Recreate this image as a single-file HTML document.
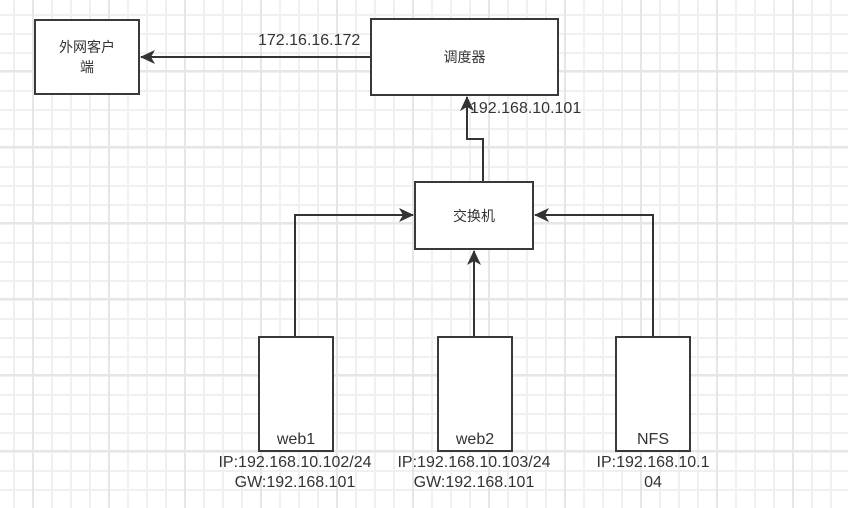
<!DOCTYPE html>
<html><head><meta charset="utf-8"><style>
body{margin:0;width:848px;height:508px;overflow:hidden;background:#fff;
background-image:linear-gradient(#e6e6e6 2px,transparent 2px),linear-gradient(90deg,#e6e6e6 2px,transparent 2px),linear-gradient(#f0f0f0 2px,transparent 2px),linear-gradient(90deg,#f0f0f0 2px,transparent 2px);
background-size:76px 76px,76px 76px,19px 19px,19px 19px;
background-position:0 70px,32px 0,0 14px,13px 0;
font-family:"Liberation Sans","Noto Sans CJK SC",sans-serif;color:#333}
.b{position:absolute;border:2px solid #36393d;background:#fff;box-sizing:border-box;display:flex;align-items:center;justify-content:center;text-align:center;font-size:14px;line-height:20px}
.t{position:absolute;font-size:16px;color:#333;white-space:nowrap;line-height:20px}
</style></head><body>
<svg width="848" height="508" style="position:absolute;left:0;top:0">
<defs><marker id="a" markerWidth="16" markerHeight="14" refX="14" refY="7" orient="auto" markerUnits="userSpaceOnUse"><path d="M0,0 L15,7 L0,14 L4,7Z" fill="#333"/></marker></defs>
<g stroke="#333" stroke-width="2" fill="none">
<path d="M370,57 L141,57" marker-end="url(#a)"/>
<path d="M483,182 L483,139 L467,139 L467,97" marker-end="url(#a)"/>
<path d="M295,336 L295,215 L413,215" marker-end="url(#a)"/>
<path d="M474,336 L474,251" marker-end="url(#a)"/>
<path d="M653,336 L653,215 L535,215" marker-end="url(#a)"/>
</g></svg>
<div class="b" style="left:34px;top:19px;width:106px;height:76px">外网客户<br>端</div>
<div class="b" style="left:370px;top:18px;width:189px;height:78px">调度器</div>
<div class="b" style="left:414px;top:181px;width:120px;height:69px">交换机</div>
<div class="b" style="left:258px;top:336px;width:76px;height:116px;align-items:flex-end;font-size:16px">web1</div>
<div class="b" style="left:437px;top:336px;width:76px;height:116px;align-items:flex-end;font-size:16px">web2</div>
<div class="b" style="left:615px;top:336px;width:76px;height:116px;align-items:flex-end;font-size:16px">NFS</div>
<div class="t" style="left:258px;top:31px">172.16.16.172</div>
<div class="t" style="left:470px;top:99px">192.168.10.101</div>
<div class="t" style="left:215px;top:453px;width:160px;text-align:center">IP:192.168.10.102/24<br>GW:192.168.101</div>
<div class="t" style="left:394px;top:453px;width:160px;text-align:center">IP:192.168.10.103/24<br>GW:192.168.101</div>
<div class="t" style="left:573px;top:453px;width:160px;text-align:center">IP:192.168.10.1<br>04</div>
</body></html>
